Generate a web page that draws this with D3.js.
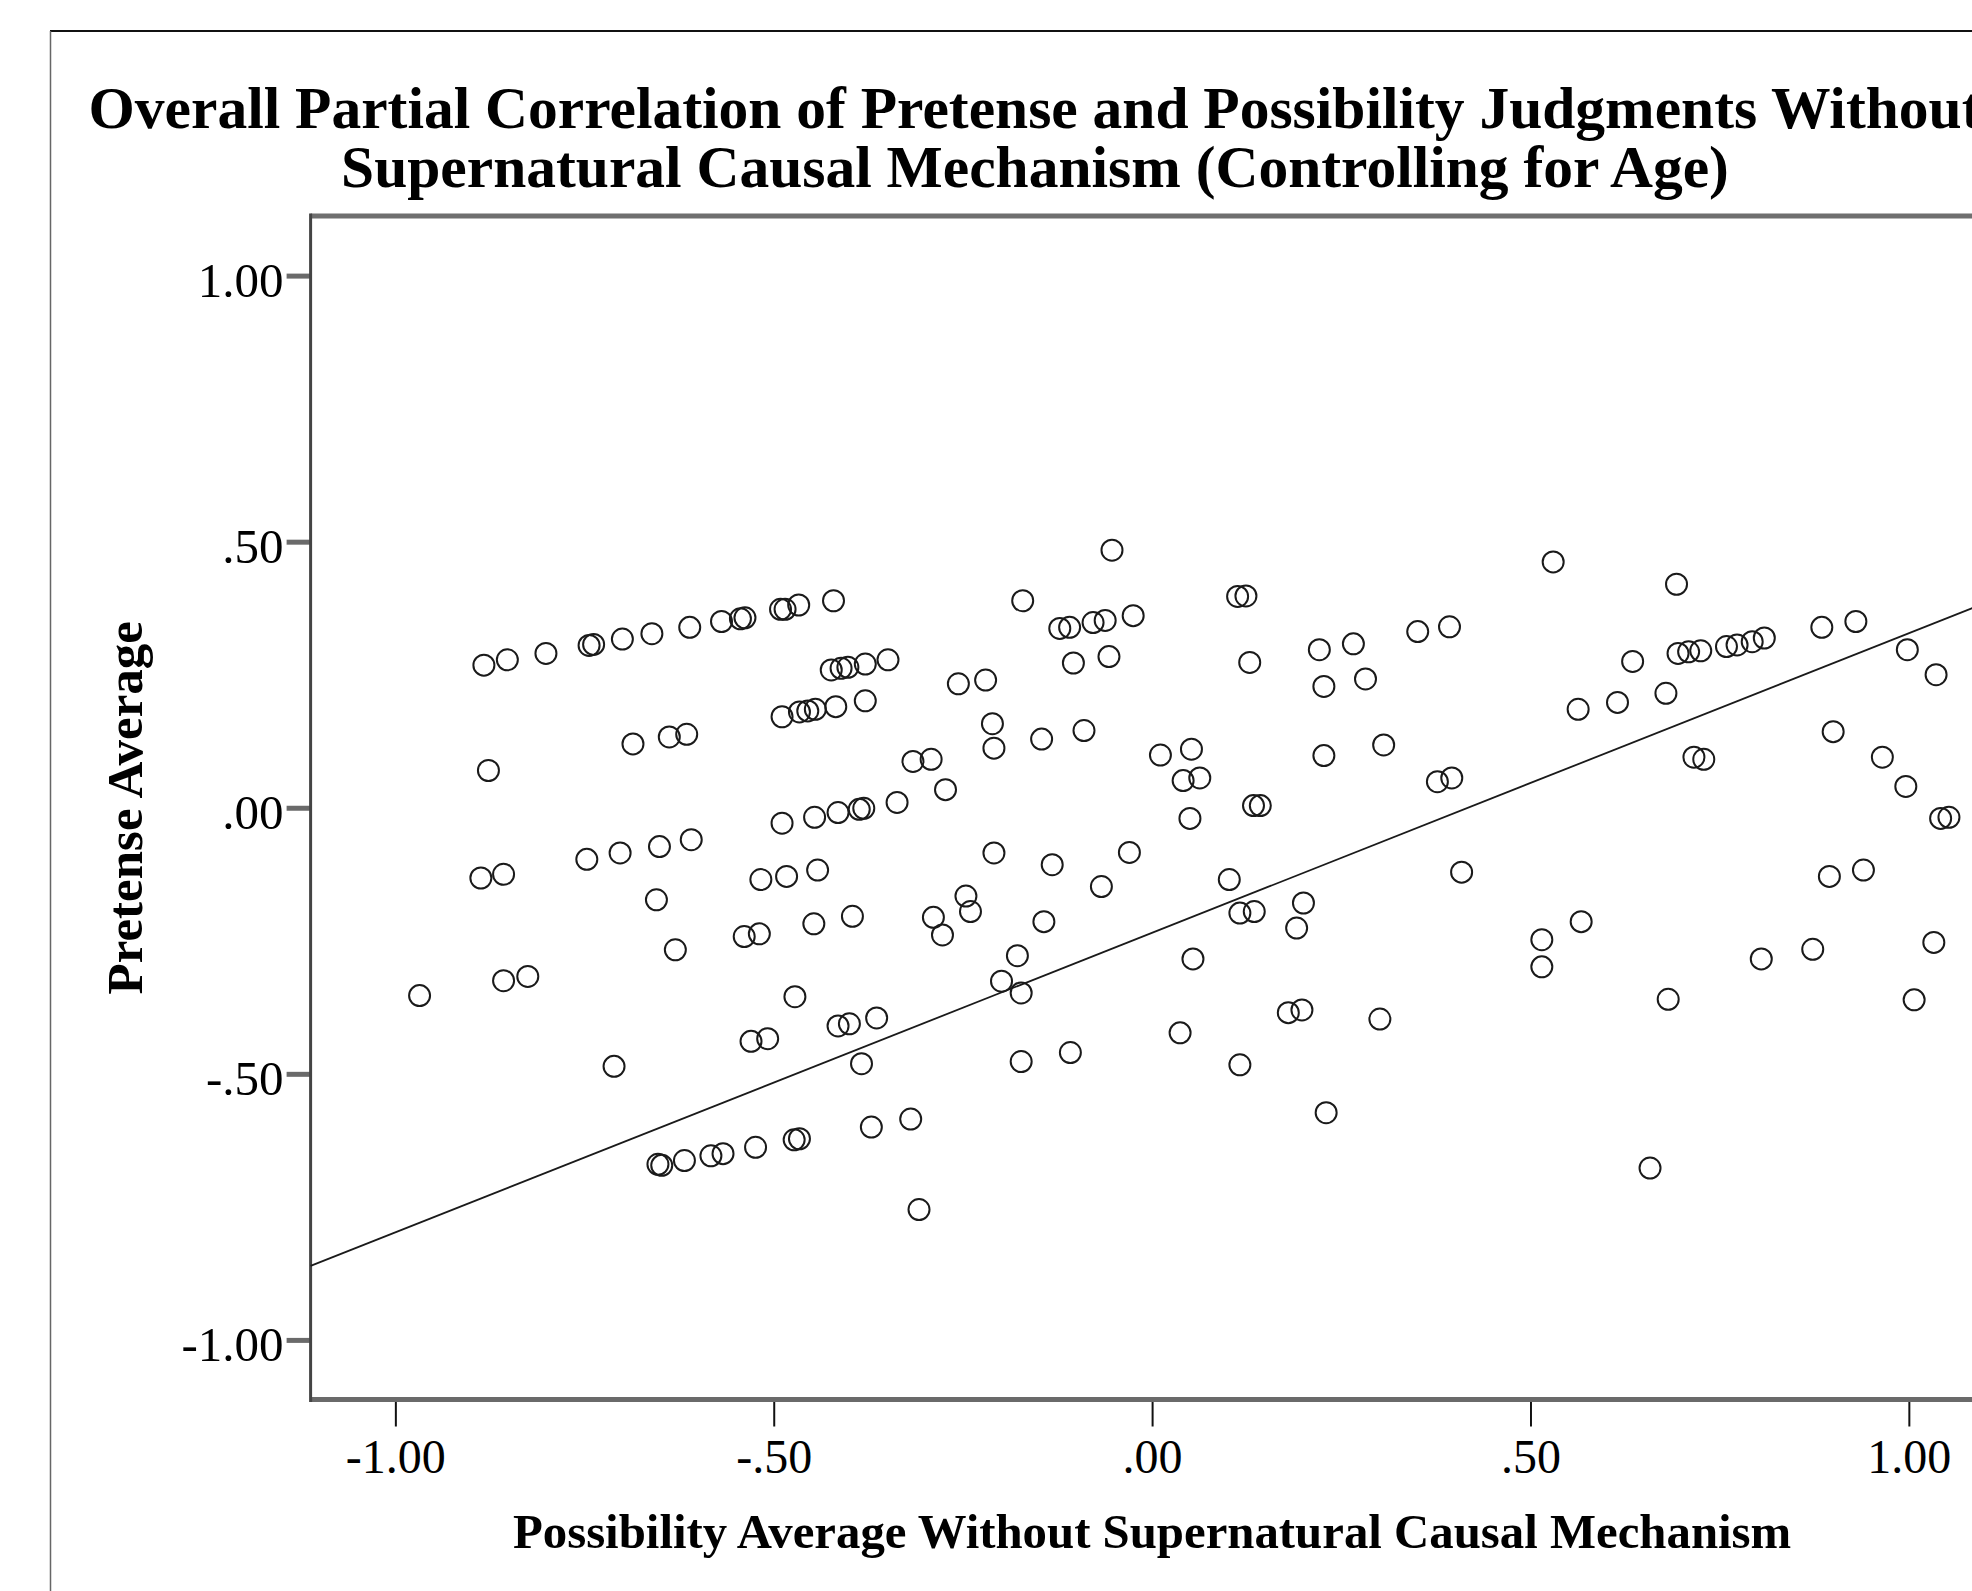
<!DOCTYPE html>
<html>
<head>
<meta charset="utf-8">
<title>Overall Partial Correlation</title>
<script src="https://cdn.jsdelivr.net/npm/d3@7"></script>
<style>
  body { margin: 0; background: #fff; }
  svg { display: block; }
  .title, .axis-title { font-family: 'Liberation Serif', 'Times New Roman', serif; font-weight: bold; fill: #000; }
  .tick text { font-family: 'Liberation Serif', 'Times New Roman', serif; fill: #000; }
</style>
</head>
<body>
<div id="chart"></div>
<script>
(function () {
  'use strict';

  // possibility average (x) and pretense average (y)
  var possibility = [
    -0.883, -0.852, -0.801, -0.744, -0.738, -0.700, -0.661, -0.611, -0.569, -0.544,
    -0.538, -0.491, -0.485, -0.467, -0.421, -0.053, -0.171, -0.122, -0.109, -0.078,
    -0.062, -0.025, -0.104, -0.057, -0.424, -0.411, -0.402, -0.379, -0.349, -0.489,
    -0.466, -0.455, -0.445, -0.418, -0.379, -0.686, -0.638, -0.615, -0.877, -0.489,
    -0.887, -0.857, -0.747, -0.703, -0.651, -0.609, -0.517, -0.483, -0.256, -0.220,
    -0.211, -0.209, -0.146, -0.090, 0.011, 0.052, 0.041, 0.063, 0.050, -0.316,
    -0.292, -0.273, -0.337, -0.446, -0.415, -0.387, -0.381, -0.442, -0.209, -0.132,
    -0.030, -0.067, 0.530, 0.113, 0.124, 0.129, 0.221, 0.266, 0.351, 0.393,
    0.227, 0.282, 0.563, 0.615, 0.227, 0.306, 0.377, 0.396, 0.134, 0.143,
    0.102, 0.409, 0.693, 0.635, 0.695, 0.709, 0.725, 0.759, 0.773, 0.793,
    0.809, 0.885, 0.930, 0.998, 1.036, 0.679, 0.716, 0.729, 0.900, 0.965,
    0.996, 1.042, 1.053, 0.895, 0.940, -0.655, -0.630, -0.539, -0.519, -0.968,
    -0.857, -0.825, -0.472, -0.530, -0.508, -0.711, -0.653, -0.648, -0.618, -0.583,
    -0.567, -0.524, -0.473, -0.466, -0.447, -0.396, -0.289, -0.277, -0.246, -0.240,
    -0.143, -0.178, -0.199, -0.173, 0.054, -0.415, -0.400, -0.364, -0.384, -0.173,
    -0.108, 0.037, -0.371, -0.319, -0.308, 0.116, 0.135, 0.200, 0.191, 0.180,
    0.198, 0.301, 0.116, 0.230, 0.567, 0.515, 0.515, 0.682, 0.805, 0.873,
    1.033, 1.007, 0.658
  ];
  var pretense = [
    0.268, 0.278, 0.290, 0.305, 0.307, 0.317, 0.327, 0.339, 0.350, 0.355,
    0.357, 0.373, 0.373, 0.381, 0.389, 0.484, 0.389, 0.337, 0.339, 0.348,
    0.352, 0.361, 0.272, 0.284, 0.259, 0.262, 0.264, 0.270, 0.278, 0.171,
    0.180, 0.182, 0.185, 0.190, 0.201, 0.120, 0.133, 0.138, 0.070, -0.029,
    -0.132, -0.125, -0.097, -0.085, -0.073, -0.060, -0.135, -0.129, 0.233, 0.240,
    0.158, 0.112, 0.129, 0.145, 0.099, 0.110, 0.051, 0.056, -0.020, 0.087,
    0.091, 0.034, 0.010, -0.018, -0.009, -0.003, -0.001, -0.117, -0.085, -0.107,
    -0.084, -0.148, 0.462, 0.397, 0.398, 0.273, 0.297, 0.308, 0.331, 0.340,
    0.228, 0.242, 0.185, 0.198, 0.098, 0.118, 0.049, 0.056, 0.004, 0.004,
    -0.135, -0.121, 0.420, 0.275, 0.290, 0.293, 0.295, 0.303, 0.306, 0.312,
    0.319, 0.339, 0.350, 0.297, 0.250, 0.215, 0.095, 0.091, 0.143, 0.095,
    0.040, -0.020, -0.018, -0.129, -0.117, -0.173, -0.267, -0.242, -0.237, -0.353,
    -0.325, -0.317, -0.355, -0.439, -0.434, -0.486, -0.670, -0.672, -0.663, -0.654,
    -0.650, -0.638, -0.624, -0.622, -0.218, -0.204, -0.206, -0.239, -0.166, -0.195,
    -0.214, -0.278, -0.326, -0.348, -0.284, -0.410, -0.406, -0.395, -0.481, -0.477,
    -0.460, -0.423, -0.600, -0.585, -0.755, -0.198, -0.195, -0.179, -0.226, -0.385,
    -0.380, -0.397, -0.483, -0.573, -0.214, -0.248, -0.299, -0.360, -0.284, -0.266,
    -0.253, -0.361, -0.677
  ];

  // fit line end points (x, y)
  var fitX = [-1.112, 1.112];
  var fitY = [-0.861, 0.391];

  var tickValues = [-1, -0.5, 0, 0.5, 1];
  var xTickLabels = ['-1.00', '-.50', '.00', '.50', '1.00'];
  var yTickLabels = ['-1.00', '-.50', '.00', '.50', '1.00'];

  var titleLines = [
    'Overall Partial Correlation of Pretense and Possibility Judgments Without',
    'Supernatural Causal Mechanism (Controlling for Age)'
  ];
  var xTitle = 'Possibility Average Without Supernatural Causal Mechanism';
  var yTitle = 'Pretense Average';

  var width = 1972;
  var height = 1591;
  var plot = { left: 310.6, right: 1993.6, top: 216, bottom: 1399.5 };

  var svg = d3.select('#chart').append('svg')
    .attr('width', width)
    .attr('height', height);

  var x = d3.scaleLinear().domain([-1.112, 1.112]).range([plot.left, plot.right]);
  var y = d3.scaleLinear().domain([-1.112, 1.112]).range([plot.bottom, plot.top]);

  /* outer chart border */
  svg.append('line')
    .attr('x1', 50).attr('x2', width).attr('y1', 31).attr('y2', 31)
    .attr('stroke', '#111').attr('stroke-width', 2);
  svg.append('line')
    .attr('x1', 50.5).attr('x2', 50.5).attr('y1', 31).attr('y2', height)
    .attr('stroke', '#666').attr('stroke-width', 1.5);

  svg.selectAll('.title')
    .data(titleLines)
    .enter()
    .append('text')
    .attr('class', 'title')
    .attr('x', 1035)
    .attr('y', function (d, i) { return 128 + i * 59; })
    .attr('text-anchor', 'middle')
    .style('font-size', '59.5px')
    .text(function (d) { return d; });

  /* axes */
  var xAxis = d3.axisBottom(x)
    .tickValues(tickValues)
    .tickSize(26)
    .tickFormat(function (d, i) { return xTickLabels[i]; });

  var gx = svg.append('g')
    .attr('transform', 'translate(0,' + (plot.bottom + 1) + ')')
    .call(xAxis);
  gx.select('.domain').remove();
  gx.selectAll('.tick line').attr('stroke', '#111').attr('stroke-width', 2);
  gx.selectAll('.tick text')
    .attr('y', 72)
    .attr('dy', 0)
    .style('font-size', '48px');

  var yAxis = d3.axisLeft(y)
    .tickValues(tickValues)
    .tickSize(24)
    .tickFormat(function (d, i) { return yTickLabels[i]; });

  var gy = svg.append('g')
    .attr('transform', 'translate(' + plot.left + ',0)')
    .call(yAxis);
  gy.select('.domain').remove();
  gy.selectAll('.tick line').attr('stroke', '#6a6a6a').attr('stroke-width', 5);
  gy.selectAll('.tick text')
    .attr('x', -27)
    .attr('dy', '0.42em')
    .style('font-size', '49px');

  /* plot frame */
  svg.append('line')
    .attr('x1', plot.left).attr('x2', plot.right).attr('y1', plot.top).attr('y2', plot.top)
    .attr('stroke', '#6f6f6f').attr('stroke-width', 5);
  svg.append('line')
    .attr('x1', plot.left).attr('x2', plot.right).attr('y1', plot.bottom).attr('y2', plot.bottom)
    .attr('stroke', '#6a6a6a').attr('stroke-width', 5);
  svg.append('line')
    .attr('x1', plot.left).attr('x2', plot.left).attr('y1', plot.top - 2.5).attr('y2', plot.bottom + 2.5)
    .attr('stroke', '#444').attr('stroke-width', 3);

  /* fit line */
  svg.append('line')
    .attr('x1', x(fitX[0])).attr('y1', y(fitY[0]))
    .attr('x2', x(fitX[1])).attr('y2', y(fitY[1]))
    .attr('stroke', '#1a1a1a')
    .attr('stroke-width', 1.8);

  /* points */
  svg.append('g').selectAll('circle')
    .data(possibility)
    .enter()
    .append('circle')
    .attr('cx', function (d) { return x(d); })
    .attr('cy', function (d, i) { return y(pretense[i]); })
    .attr('r', 10.5)
    .attr('fill', 'none')
    .attr('stroke', '#1a1a1a')
    .attr('stroke-width', 2);

  svg.append('text')
    .attr('class', 'axis-title')
    .attr('x', x(0))
    .attr('y', 1548)
    .attr('text-anchor', 'middle')
    .style('font-size', '48.8px')
    .text(xTitle);

  svg.append('text')
    .attr('class', 'axis-title')
    .attr('transform', 'translate(142,' + y(0) + ') rotate(-90)')
    .attr('text-anchor', 'middle')
    .style('font-size', '51px')
    .text(yTitle);
}());
</script>
</body>
</html>
